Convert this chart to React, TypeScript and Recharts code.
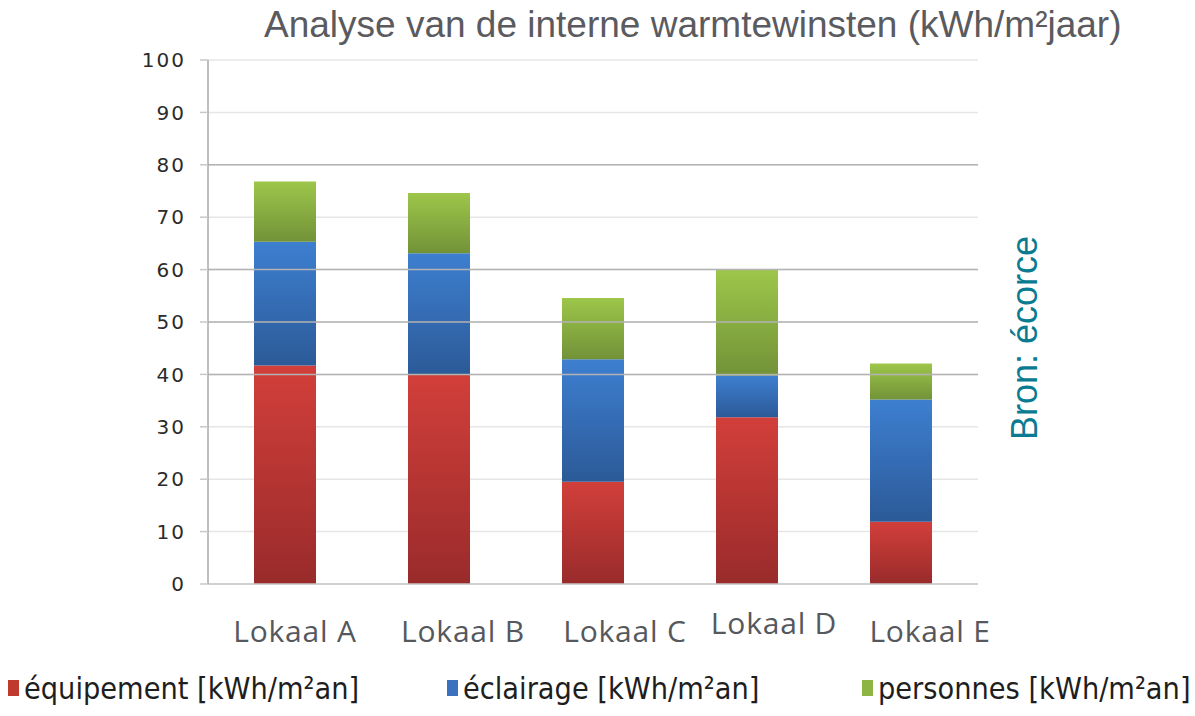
import { Bar, BarChart, CartesianGrid, Legend, ReferenceLine, XAxis, YAxis } from 'recharts'

const lokalen = ['Lokaal A', 'Lokaal B', 'Lokaal C', 'Lokaal D', 'Lokaal E']
const equipement = [41.7, 40.1, 19.5, 31.8, 11.9]
const eclairage = [23.6, 23.0, 23.4, 8.0, 23.3]
const personnes = [11.5, 11.5, 11.7, 20.1, 6.9]
const yTicks = [0, 10, 20, 30, 40, 50, 60, 70, 80, 90, 100]
const darkLines = [40, 50, 60, 80]

const series = [
  { key: 'equipement', label: 'équipement [kWh/m²an]', top: '#d23f3a', bottom: '#992b2b', swatch: '#c0392f' },
  { key: 'eclairage', label: 'éclairage [kWh/m²an]', top: '#3d7fd0', bottom: '#2c5a98', swatch: '#3a72c0' },
  { key: 'personnes', label: 'personnes [kWh/m²an]', top: '#9dc64a', bottom: '#729238', swatch: '#8db544' },
]

const data = lokalen.map((name, i) => ({
  name,
  equipement: equipement[i],
  eclairage: eclairage[i],
  personnes: personnes[i],
}))

// labels in the source sit a bit right of the bar centres
const labelShift = [10, 24, 32, 27, 29]
const labelLift = [0, 0, 0, -8, 0]

const CatTick = (props: any) => {
  const { x, y, payload, index } = props
  return (
    <text
      x={x + labelShift[index]}
      y={y + 50 + labelLift[index]}
      textAnchor="middle"
      fill="#55585d"
      fontFamily="Open Sans"
      fontSize={30}
      letterSpacing={0.8}
    >
      {payload.value}
    </text>
  )
}

const LegendContent = () => (
  <div style={{ position: 'relative', width: 1195, height: 44 }}>
    {series.map((s, i) => (
      <div
        key={s.key}
        style={{
          position: 'absolute',
          left: [8, 447, 862][i],
          top: 0,
          display: 'flex',
          alignItems: 'center',
          whiteSpace: 'nowrap',
        }}
      >
        <span style={{ width: 11, height: 16, background: s.swatch, display: 'inline-block', marginRight: 5 }} />
        <span
          style={{
            fontFamily: 'DejaVu Sans',
            fontSize: 31,
            color: '#1e1e1e',
            display: 'inline-block',
            transformOrigin: 'left center',
            transform: 'scaleX(0.88)',
          }}
        >
          {s.label}
        </span>
      </div>
    ))}
  </div>
)

export default function App() {
  return (
    <div style={{ position: 'absolute', left: 0, top: 0, width: 1195, height: 716, background: '#fff', overflow: 'hidden' }}>
      <BarChart
        width={1195}
        height={716}
        data={data}
        margin={{ top: 60, right: 217, left: 0, bottom: 0 }}
        barCategoryGap={0}
      >
        <defs>
          {series.map((s) => (
            <linearGradient key={s.key} id={`g-${s.key}`} x1="0" y1="0" x2="0" y2="1">
              <stop offset="0%" stopColor={s.top} />
              <stop offset="100%" stopColor={s.bottom} />
            </linearGradient>
          ))}
        </defs>
        <CartesianGrid vertical={false} stroke="#e6e6e6" strokeWidth={1.5} />
        {darkLines.map((v) => (
          <ReferenceLine key={v} y={v} stroke="#b3b3b3" strokeWidth={1.5} />
        ))}
        <XAxis
          dataKey="name"
          height={60}
          tick={<CatTick />}
          tickLine={false}
          axisLine={{ stroke: '#c8c8c8', strokeWidth: 1.5 }}
          interval={0}
        />
        <XAxis
          xAxisId="bounds"
          type="number"
          domain={[0, 5]}
          ticks={[0, 1, 2, 3, 4, 5]}
          tick={false}
          height={12}
          axisLine={false}
          tickLine={{ stroke: '#a8a8a8', strokeWidth: 1.5 }}
          tickSize={7}
          orientation="bottom"
        />
        <YAxis
          width={208}
          domain={[0, 100]}
          ticks={yTicks}
          interval={0}
          tick={{ fill: '#2b2b2b', fontFamily: 'DejaVu Sans', fontSize: 20, letterSpacing: 2 }}
          tickLine={{ stroke: '#c8c8c8', strokeWidth: 1.5 }}
          tickSize={8}
          tickMargin={14}
          axisLine={{ stroke: '#a8a8a8', strokeWidth: 1.5 }}
        />
        {series.map((s) => (
          <Bar
            key={s.key}
            dataKey={s.key}
            name={s.label}
            stackId="a"
            fill={`url(#g-${s.key})`}
            barSize={62}
            isAnimationActive={false}
          />
        ))}
        <Legend content={<LegendContent />} verticalAlign="bottom" height={60} wrapperStyle={{ left: 0, top: 670 }} />
      </BarChart>
      <div
        style={{
          position: 'absolute',
          left: 264,
          top: 4,
          fontFamily: 'Liberation Sans',
          fontSize: 37,
          color: '#5a5a5f',
          whiteSpace: 'nowrap',
        }}
      >
        Analyse van de interne warmtewinsten (kWh/m²jaar)
      </div>
      <div
        style={{
          position: 'absolute',
          left: 1025,
          top: 338,
          transform: 'translate(-50%, -50%) rotate(-90deg)',
          fontFamily: 'Liberation Sans',
          fontSize: 36,
          color: '#0a7b91',
          whiteSpace: 'nowrap',
        }}
      >
        Bron: écorce
      </div>
    </div>
  )
}
